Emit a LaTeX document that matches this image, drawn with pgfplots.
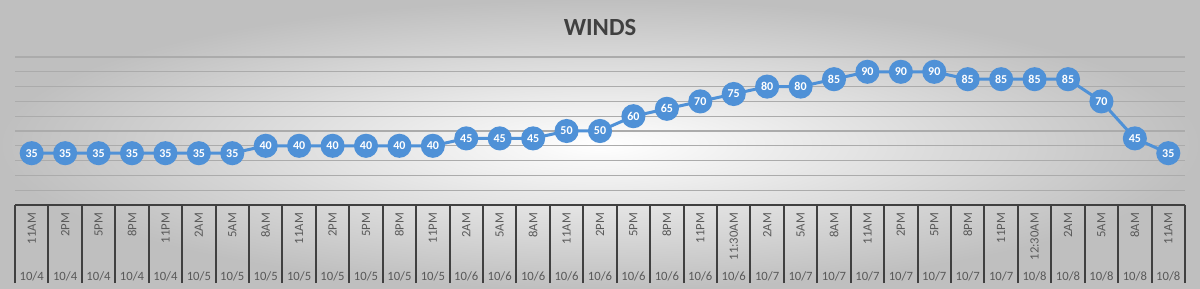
\documentclass[border=0pt]{standalone}
\usepackage{pgfplots}
\usepackage{pgfplotstable}
\pgfplotsset{compat=1.18}
\usepackage{fontspec}
\setmainfont{Carlito}
\usepackage{graphicx}
\definecolor{mblue}{RGB}{79,145,215}
\definecolor{dgray}{RGB}{64,64,64}
\definecolor{lgray}{RGB}{89,89,89}
\newcommand{\R}[1]{\rotatebox{90}{#1}}
\pgfplotstableread{
x y
0 35
1 35
2 35
3 35
4 35
5 35
6 35
7 40
8 40
9 40
10 40
11 40
12 40
13 45
14 45
15 45
16 50
17 50
18 60
19 65
20 70
21 75
22 80
23 80
24 85
25 90
26 90
27 90
28 85
29 85
30 85
31 85
32 70
33 45
34 35
}\winds
\begin{document}
\begin{tikzpicture}
\shade[inner color=white, outer color=black!25] (-11.25pt,-63pt) rectangle (888.75pt,153.75pt);
\begin{axis}[
  at={(0,0)}, anchor=south west,
  width=877.5pt, height=111pt, scale only axis,
  xmin=-0.5, xmax=34.5, ymin=0, ymax=100,
  clip=false,
  axis x line*=bottom, axis y line*=left,
  x axis line style={dgray, line width=1.5pt},
  y axis line style={draw=none},
  ytick={10,20,...,100}, yticklabels={}, ytick style={draw=none},
  ymajorgrids,
  major grid style={black!33, line width=0.9pt},
  xtick={0,...,34},
  xticklabels={\R{11AM},\R{2PM},\R{5PM},\R{8PM},\R{11PM},\R{2AM},\R{5AM},\R{8AM},\R{11AM},\R{2PM},\R{5PM},\R{8PM},\R{11PM},\R{2AM},\R{5AM},\R{8AM},\R{11AM},\R{2PM},\R{5PM},\R{8PM},\R{11PM},\R{11:30AM},\R{2AM},\R{5AM},\R{8AM},\R{11AM},\R{2PM},\R{5PM},\R{8PM},\R{11PM},\R{12:30AM},\R{2AM},\R{5AM},\R{8AM},\R{11AM}},
  major tick length=0pt,
  xticklabel style={anchor=north, font=\fontsize{9.5}{10}\selectfont, text=lgray, yshift=-2.5pt},
  minor xtick={-0.5,0.5,...,34.5},
  minor tick length=58.5pt, tick align=outside,
  minor x tick style={dgray, line width=1.5pt},
  extra x ticks={0,...,34},
  extra x tick labels={10/4,10/4,10/4,10/4,10/4,10/5,10/5,10/5,10/5,10/5,10/5,10/5,10/5,10/6,10/6,10/6,10/6,10/6,10/6,10/6,10/6,10/6,10/7,10/7,10/7,10/7,10/7,10/7,10/7,10/7,10/8,10/8,10/8,10/8,10/8},
  extra x tick style={major tick length=0pt, xticklabel style={anchor=center, yshift=-51pt}},
  /pgf/number format/assume math mode=true,
]
\addplot[mblue, line width=2.25pt, mark=*, mark size=7.9pt, mark options={fill=mblue, draw=mblue},
  nodes near coords,
  every node near coord/.append style={font=\fontsize{9}{10}\selectfont\bfseries, text=white, anchor=center}]
  table[x=x, y=y] {\winds};
\end{axis}
\node[font=\fontsize{18.5}{20}\selectfont\bfseries, text=dgray] at (438.75pt,133.5pt) {WINDS};
\end{tikzpicture}
\end{document}
